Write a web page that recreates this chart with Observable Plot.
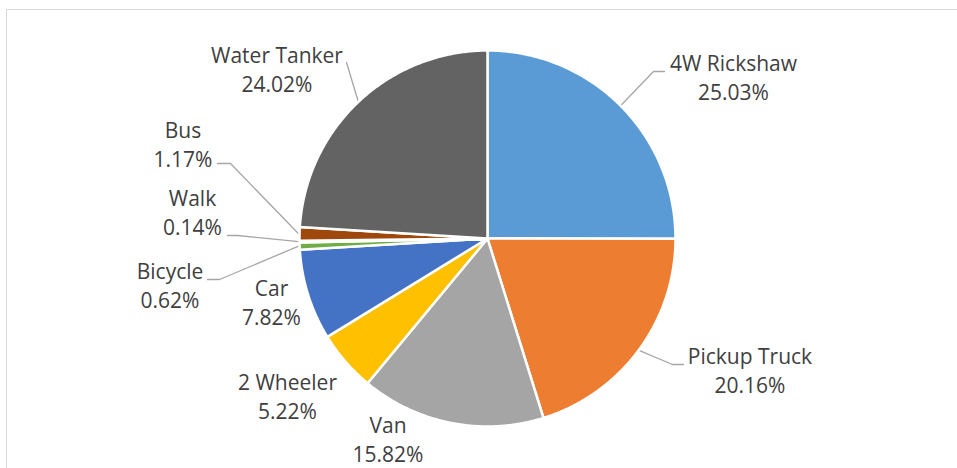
<!DOCTYPE html>
<html>
<head>
<meta charset="utf-8">
<script src="https://cdn.jsdelivr.net/npm/d3@7"></script>
<script src="https://cdn.jsdelivr.net/npm/@observablehq/plot@0.6"></script>
<style>
  html, body { margin: 0; padding: 0; background: #fff; }
  #wrap { position: relative; width: 957px; height: 468px; overflow: hidden; }
  #frame { position: absolute; left: 6px; top: 9px; width: 1000px; height: 1000px;
           border-top: 1.5px solid #d9d9d9; border-left: 1.5px solid #d9d9d9; }
  #chart { position: absolute; left: 0; top: 0; }
</style>
</head>
<body>
<div id="wrap"><div id="frame"></div><div id="chart"></div></div>
<script>
// ---- data ----
const categories = ["4W Rickshaw", "Pickup Truck", "Van", "2 Wheeler", "Car", "Bicycle", "Walk", "Bus", "Water Tanker"];
const shares = [25.03, 20.16, 15.82, 5.22, 7.82, 0.62, 0.14, 1.17, 24.02];
const colors = ["#5B9BD5", "#ED7D31", "#A5A5A5", "#FFC000", "#4472C4", "#70AD47", "#255E91", "#9E480E", "#636363"];

// ---- layout (pixel offsets from pie centre, y downward) ----
const R = 188;
const labelPos = [[246, -162], [262.5, 131], [-99.5, 199.5], [-200, 157], [-216, 62.5],
                  [-317.5, 45.5], [-295, -27.5], [-304.5, -95.5], [-210.5, -170.5]];
const leaderPts = {
  "4W Rickshaw": [[166, -167], [177, -167]],
  "Pickup Truck": [[185, 126], [196, 126]],
  "Water Tanker": [[-141, -176]],
  "Bus": [[-257, -75], [-270, -75]],
  "Walk": [[-250, -3], [-260, -3]],
  "Bicycle": [[-268, 41], [-280, 41]]
};

const total = d3.sum(shares);
let cum = 0;
const slices = shares.map((v, i) => {
  const a0 = cum / total * 2 * Math.PI;
  cum += v;
  const a1 = cum / total * 2 * Math.PI;
  return {label: categories[i], a0, a1, mid: (a0 + a1) / 2};
});
const pt = (a, r) => ({x: r * Math.sin(a), y: -r * Math.cos(a)});

function slicePoints(s) {
  const pts = [{x: 0, y: 0}];
  const n = Math.max(2, Math.ceil((s.a1 - s.a0) / (Math.PI / 360)));
  for (let k = 0; k <= n; k++) pts.push(pt(s.a0 + (s.a1 - s.a0) * k / n, R));
  pts.push({x: 0, y: 0});
  return pts;
}

const leaders = [];
slices.forEach(s => {
  const extra = leaderPts[s.label];
  if (!extra) return;
  const p0 = pt(s.mid, R + 1);
  leaders.push({z: s.label, x: p0.x, y: p0.y});
  extra.forEach(([x, y]) => leaders.push({z: s.label, x, y}));
});

const labels = slices.map((s, i) => ({
  x: labelPos[i][0], y: labelPos[i][1],
  text: `${s.label}\n${shares[i].toFixed(2)}%`
}));

const chart = Plot.plot({
  width: 957,
  height: 468,
  margin: 0,
  x: {domain: [-487, 470], range: [0, 957], axis: null},
  y: {domain: [-238, 230], range: [0, 468], axis: null},
  style: {fontFamily: "'Open Sans', sans-serif", background: "transparent"},
  marks: [
    Plot.line(leaders, {x: "x", y: "y", z: "z", stroke: "#a6a6a6", strokeWidth: 1.3}),
    ...slices.map((s, i) => Plot.line(slicePoints(s), {
      x: "x", y: "y", fill: colors[i], stroke: "white", strokeWidth: 2.5, strokeLinejoin: "round"
    })),
    Plot.text(labels, {x: "x", y: "y", text: "text", fontSize: 21, lineHeight: 1.38,
      fill: "#404040", textAnchor: "middle", lineAnchor: "middle"})
  ]
});
document.getElementById("chart").appendChild(chart);
</script>
</body>
</html>
